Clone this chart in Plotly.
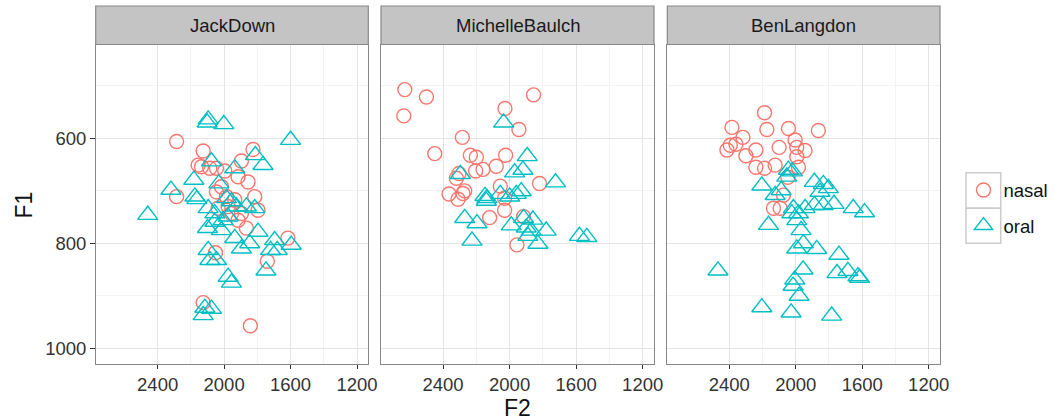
import plotly.graph_objects as go

# ---------------- data (F2, F1 in Hz) ----------------
speakers = ["JackDown", "MichelleBaulch", "BenLangdon"]
vowel_types = ["nasal", "oral"]

jack_nasal_f2 = [2286, 2126, 1826, 1896, 2156, 2136, 2086, 2046, 1996, 1916, 1856, 2286, 2046, 1816, 1796,
                 2036, 1976, 1936, 1916, 1866, 1616, 2052, 1740, 2126, 1842, 1986, 1956, 1896, 2016]
jack_nasal_f1 = [606, 624, 621, 643, 651, 654, 657, 657, 662, 673, 683, 711, 702, 711, 737,
                 733, 730, 717, 756, 771, 790, 818, 834, 913, 957, 711, 743, 743, 692]
jack_oral_f2 = [2096, 2102, 2002, 1600, 1812, 1766, 2076, 2182, 2320, 2176, 2164, 2460, 1936, 2032, 2096,
                2056, 1986, 1956, 1926, 1866, 1816, 2006, 1976, 2056, 2100, 2016, 1936, 1896, 1846, 1796,
                1696, 1680, 1596, 1720, 2096, 2086, 2046, 1976, 1956, 1748, 2116, 2076, 2126]
jack_oral_f1 = [564, 570, 573, 603, 632, 651, 644, 679, 698, 711, 716, 746, 657, 686, 733,
                743, 714, 720, 730, 730, 733, 756, 749, 759, 771, 775, 790, 810, 800, 778,
                794, 813, 803, 813, 813, 832, 832, 864, 875, 852, 923, 925, 937]

michelle_nasal_f2 = [2630, 2500, 2636, 1856, 2028, 1944, 2284, 2450, 2236, 2200, 2024, 2080, 2160, 2204,
                     2304, 2320, 1820, 2056, 2270, 2280, 2364, 2310, 2030, 2030, 2120, 1916, 1956]
michelle_nasal_f1 = [507, 521, 557, 517, 543, 583, 598, 629, 632, 636, 632, 653, 659, 662,
                     667, 676, 686, 691, 700, 705, 706, 716, 714, 737, 751, 749, 803]
michelle_oral_f2 = [2036, 1894, 1970, 1920, 1724, 2296, 2148, 2136, 2140, 2056, 2000, 1960, 1930, 2270,
                    2196, 1916, 1860, 1990, 1900, 1870, 1780, 1890, 1830, 2226, 1580, 1536]
michelle_oral_f1 = [570, 634, 665, 660, 684, 668, 710, 714, 719, 706, 711, 706, 701, 752,
                    762, 752, 755, 766, 770, 776, 776, 786, 801, 795, 786, 788]

ben_nasal_f2 = [2188, 2384, 2174, 2044, 1864, 2318, 2004, 2394, 2360, 2414, 2240, 2100, 1994, 1944,
                2300, 1994, 2240, 2188, 2124, 1984, 2048, 2074, 2134, 2094]
ben_nasal_f1 = [551, 579, 583, 581, 585, 598, 603, 613, 611, 622, 622, 617, 617, 623,
                633, 635, 655, 657, 651, 655, 674, 708, 733, 733]
ben_oral_f2 = [2044, 2020, 2054, 2204, 1888, 1834, 1804, 1854, 2124, 2088, 1888, 1834, 1770, 1654,
               1586, 1944, 2014, 1984, 2024, 1994, 2164, 1968, 1954, 1994, 1874, 1740, 1956, 2006,
               2016, 2468, 1752, 1686, 1626, 1616, 1980, 2204, 2028, 1784]
ben_oral_f1 = [660, 663, 673, 690, 683, 687, 695, 702, 708, 699, 727, 727, 725, 733,
               741, 733, 733, 743, 743, 756, 765, 775, 800, 810, 811, 822, 850, 869,
               881, 852, 857, 853, 863, 866, 900, 922, 932, 938]

x_ticks = [2400, 2000, 1600, 1200]
x_minor = [2200, 1800, 1400]
y_ticks = [600, 800, 1000]
y_minor = [500, 700, 900]
x_range = [2773, 1132]
y_range = [1029, 421]

data = {
    "JackDown": {"nasal": (jack_nasal_f2, jack_nasal_f1), "oral": (jack_oral_f2, jack_oral_f1)},
    "MichelleBaulch": {"nasal": (michelle_nasal_f2, michelle_nasal_f1), "oral": (michelle_oral_f2, michelle_oral_f1)},
    "BenLangdon": {"nasal": (ben_nasal_f2, ben_nasal_f1), "oral": (ben_oral_f2, ben_oral_f1)},
}

# ---------------- styling ----------------
W, H = 1054, 420
FONT = "Liberation Sans, Arial, Helvetica, sans-serif"
colors = {"nasal": "#F8766D", "oral": "#00BFC4"}
symbols = {"nasal": "circle-open", "oral": "triangle-up-open"}
sizes = {"nasal": 14, "oral": 17.5}

panels_px = [(95.7, 368.3), (381.0, 654.0), (667.3, 940.0)]
panel_top, panel_bot = 44.5, 363.5
strip_top = 6.0


def px(x):
    return x / W


def py(y):
    return 1 - y / H


fig = go.Figure()

for i, spk in enumerate(speakers):
    suffix = "" if i == 0 else str(i + 1)
    for vt in vowel_types:
        f2, f1 = data[spk][vt]
        fig.add_trace(go.Scatter(
            x=f2, y=f1, mode="markers", name=vt,
            xaxis="x" + suffix, yaxis="y" + suffix,
            marker=dict(symbol=symbols[vt], size=sizes[vt], color=colors[vt],
                        line=dict(width=1.4, color=colors[vt])),
            showlegend=(i == 0),
            legend="legend" if vt == "nasal" else "legend2",
            hoverinfo="skip",
        ))

grid_major = "#E4E4E4"
grid_minor = "#F3F3F3"
border = "#888888"

layout = dict(
    width=W, height=H, template="none",
    margin=dict(l=0, r=0, t=0, b=0),
    paper_bgcolor="white", plot_bgcolor="white",
    font=dict(family=FONT, color="#222222"),
)

for i, (x0, x1) in enumerate(panels_px):
    suffix = "" if i == 0 else str(i + 1)
    layout["xaxis" + suffix] = dict(
        domain=[px(x0), px(x1)], range=x_range, anchor="y" + suffix,
        tickmode="array", tickvals=x_ticks, ticktext=[str(v) for v in x_ticks],
        ticks="outside", ticklen=4.5, tickwidth=1.1, tickcolor="#333333",
        tickfont=dict(family=FONT, size=18.5, color="#333333"),
        showgrid=True, gridcolor=grid_major, gridwidth=1,
        minor=dict(tickmode="array", tickvals=x_minor, showgrid=True,
                   gridcolor=grid_minor, gridwidth=1, ticks=""),
        showline=True, mirror=True, linecolor=border, linewidth=1.2,
        zeroline=False, automargin=False, fixedrange=True,
    )
    layout["yaxis" + suffix] = dict(
        domain=[py(panel_bot), py(panel_top)], range=y_range, anchor="x" + suffix,
        tickmode="array", tickvals=y_ticks, ticktext=[str(v) for v in y_ticks],
        ticks="outside" if i == 0 else "", ticklen=4.5, tickwidth=1.1, tickcolor="#333333",
        showticklabels=(i == 0),
        tickfont=dict(family=FONT, size=18.5, color="#333333"),
        showgrid=True, gridcolor=grid_major, gridwidth=1,
        minor=dict(tickmode="array", tickvals=y_minor, showgrid=True,
                   gridcolor=grid_minor, gridwidth=1, ticks=""),
        showline=True, mirror=True, linecolor=border, linewidth=1.2,
        zeroline=False, automargin=False, fixedrange=True,
    )

shapes = []
annotations = []
for spk, (x0, x1) in zip(speakers, panels_px):
    shapes.append(dict(type="rect", xref="paper", yref="paper",
                       x0=px(x0), x1=px(x1), y0=py(panel_top), y1=py(strip_top),
                       fillcolor="#C4C4C4", line=dict(color=border, width=1.2), layer="above"))
    annotations.append(dict(text=spk, xref="paper", yref="paper",
                            x=px((x0 + x1) / 2), y=py((strip_top + panel_top) / 2),
                            xanchor="center", yanchor="middle", showarrow=False,
                            font=dict(family=FONT, size=18.5, color="#1A1A1A")))

# axis titles
annotations.append(dict(text="F2", xref="paper", yref="paper",
                        x=px((panels_px[0][0] + panels_px[2][1]) / 2), y=py(408),
                        xanchor="center", yanchor="middle", showarrow=False,
                        font=dict(family=FONT, size=23, color="#111111")))
annotations.append(dict(text="F1", xref="paper", yref="paper", textangle=-90,
                        x=px(23.5), y=py(205),
                        xanchor="center", yanchor="middle", showarrow=False,
                        font=dict(family=FONT, size=23, color="#111111")))

# legend key boxes
for (y0, y1) in [(172.7, 208.3), (208.3, 243.3)]:
    shapes.append(dict(type="rect", xref="paper", yref="paper",
                       x0=px(966), x1=px(1000.7), y0=py(y1), y1=py(y0),
                       fillcolor="rgba(0,0,0,0)", line=dict(color="#CCCCCC", width=1.5),
                       layer="below"))

legend_common = dict(xanchor="left", yanchor="middle", bgcolor="rgba(0,0,0,0)",
                     borderwidth=0, itemsizing="trace",
                     font=dict(family=FONT, size=18.5, color="#111111"))
layout["legend"] = dict(x=px(963.5), y=py(190.5), **legend_common)
layout["legend2"] = dict(x=px(963.5), y=py(226), **legend_common)

layout["shapes"] = shapes
layout["annotations"] = annotations
fig.update_layout(**layout)

fig.write_html(
    "out.html",
    config={"displayModeBar": False, "staticPlot": False},
    post_script="document.body.style.margin='0px';document.body.style.overflow='hidden';",
)
